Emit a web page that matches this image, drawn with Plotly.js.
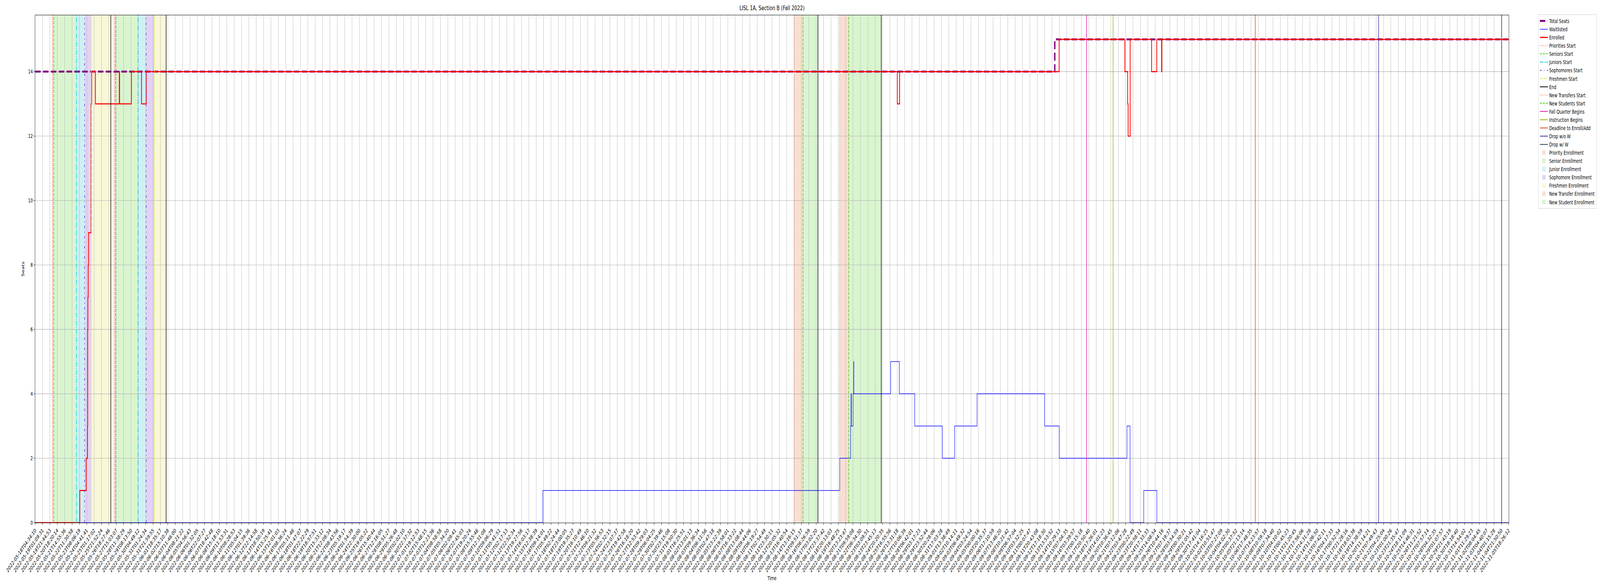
<!DOCTYPE html>
<html>
<head>
<meta charset="utf-8">
<script src="https://cdn.plot.ly/plotly-3.0.1.min.js"></script>
<style>
html,body{margin:0;padding:0;background:#fff;overflow:hidden}
#chart{width:6000px;height:1500px;transform-origin:0 0}
</style>
</head>
<body>
<div id="chart"></div>
<script>
var tStart = '2022-05-18 04:34:10';
var tEnd = '2022-11-05 18:26:12';

// total seats (step)
var seatTimes = [tStart, '2022-09-13 21:42:00', tEnd];
var seatValues = [14, 15, 15];

// waitlisted (step)
var waitTimes = [tStart, '2022-07-16 07:12:00', '2022-08-19 20:49:00', '2022-08-21 03:09:00',
  '2022-08-21 04:25:00', '2022-08-21 05:18:00', '2022-08-21 09:59:00', '2022-08-21 11:42:00',
  '2022-08-21 12:10:00', '2022-08-25 18:58:00', '2022-08-26 19:16:00', '2022-08-28 14:22:00',
  '2022-08-31 19:38:00', '2022-09-02 05:44:00', '2022-09-04 20:29:00', '2022-09-12 17:27:00',
  '2022-09-14 10:07:00', '2022-09-22 07:28:00', '2022-09-22 16:05:00', '2022-09-24 06:17:00',
  '2022-09-25 18:57:00', tEnd];
var waitValues = [0, 1, 2, 3, 4, 3, 4, 5, 4, 5, 4, 3, 2, 3, 4, 3, 2, 3, 0, 1, 0, 0];

// enrolled (step)
var enrolledTimes = [tStart, '2022-05-23 09:09:00', '2022-05-24 03:00:00', '2022-05-24 06:43:00',
  '2022-05-24 07:14:00', '2022-05-24 07:45:00', '2022-05-24 08:44:00', '2022-05-24 09:42:00',
  '2022-05-24 16:41:00', '2022-05-24 18:23:00', '2022-05-25 04:48:00', '2022-05-27 23:33:00',
  '2022-05-28 00:27:00', '2022-05-29 09:23:00', '2022-05-30 13:38:00', '2022-05-31 02:50:00',
  '2022-08-26 13:37:00', '2022-08-26 20:10:00', '2022-09-14 09:54:00', '2022-09-22 01:31:00',
  '2022-09-22 09:24:00', '2022-09-22 10:39:00', '2022-09-22 16:23:00', '2022-09-25 04:18:00',
  '2022-09-25 18:43:00', '2022-09-26 08:06:00', '2022-09-26 08:52:00', tEnd];
var enrolledValues = [0, 1, 2, 3, 6, 7, 8, 9, 13, 14, 13, 14, 13, 14, 13, 14, 13, 14, 15, 14, 13, 12, 15, 14, 15, 14, 15, 15];

// event markers
var lineNames = ['Priorities Start', 'Seniors Start', 'Juniors Start', 'Sophomores Start', 'Freshmen Start', 'End',
  'Priorities Start', 'Seniors Start', 'Juniors Start', 'Sophomores Start', 'Freshmen Start', 'End',
  'New Transfers Start', 'New Students Start', 'End',
  'New Transfers Start', 'New Students Start', 'End',
  'Fall Quarter Begins', 'Instruction Begins', 'Deadline to Enroll/Add', 'Drop w/o W', 'Drop w/ W'];
var lineTimes = ['2022-05-20 04:13:00', '2022-05-20 08:18:00', '2022-05-23 00:01:00', '2022-05-23 22:32:00', '2022-05-24 17:12:00', '2022-05-26 23:55:00',
  '2022-05-27 08:50:00', '2022-05-27 12:55:00', '2022-05-30 03:44:00', '2022-05-31 02:47:00', '2022-06-01 01:05:00', '2022-06-02 10:32:00',
  '2022-08-14 13:06:00', '2022-08-15 14:09:00', '2022-08-17 07:56:00',
  '2022-08-19 20:18:00', '2022-08-20 21:52:00', '2022-08-24 16:56:00',
  '2022-09-17 14:32:00', '2022-09-20 16:40:00', '2022-10-07 05:54:00', '2022-10-21 14:43:00', '2022-11-04 22:37:00'];

// enrollment windows
var spanNames = ['Priority Enrollment', 'Senior Enrollment', 'Junior Enrollment', 'Sophomore Enrollment', 'Freshmen Enrollment',
  'Priority Enrollment', 'Senior Enrollment', 'Junior Enrollment', 'Sophomore Enrollment', 'Freshmen Enrollment',
  'New Transfer Enrollment', 'New Student Enrollment', 'New Transfer Enrollment', 'New Student Enrollment'];
var spanStarts = ['2022-05-20 04:13:00', '2022-05-20 08:18:00', '2022-05-23 00:01:00', '2022-05-23 22:32:00', '2022-05-24 17:12:00',
  '2022-05-27 08:50:00', '2022-05-27 12:55:00', '2022-05-30 03:44:00', '2022-05-31 02:47:00', '2022-06-01 01:05:00',
  '2022-08-14 13:06:00', '2022-08-15 14:09:00', '2022-08-19 20:18:00', '2022-08-20 21:52:00'];
var spanEnds = ['2022-05-20 08:18:00', '2022-05-23 00:01:00', '2022-05-23 22:32:00', '2022-05-24 17:12:00', '2022-05-26 23:55:00',
  '2022-05-27 12:55:00', '2022-05-30 03:44:00', '2022-05-31 02:47:00', '2022-06-01 01:05:00', '2022-06-02 10:32:00',
  '2022-08-15 14:09:00', '2022-08-17 07:56:00', '2022-08-20 21:52:00', '2022-08-24 16:56:00'];

var lineStyles = {
  'Priorities Start': {color: '#f26b3a', dash: '2px,3.5px'},
  'Seniors Start': {color: '#3fcc10', dash: '7.7px,3.3px'},
  'Juniors Start': {color: '#00c8d8', dash: '13px,3px,2px,3px'},
  'Sophomores Start': {color: '#6a22d6', dash: '6px,9px,2px,9px'},
  'Freshmen Start': {color: '#e2e22a', dash: '6px,2px,2px,2px,2px,2px'},
  'End': {color: '#000000', dash: 'solid'},
  'New Transfers Start': {color: '#f26b3a', dash: '2px,3.5px'},
  'New Students Start': {color: '#3fcc10', dash: '7.7px,3.3px'},
  'Fall Quarter Begins': {color: '#e0179e', dash: 'solid'},
  'Instruction Begins': {color: '#8db414', dash: 'solid'},
  'Deadline to Enroll/Add': {color: '#d9461c', dash: 'solid'},
  'Drop w/o W': {color: '#3a2e99', dash: 'solid'},
  'Drop w/ W': {color: '#2f3f60', dash: 'solid'}
};
var spanColors = {
  'Priority Enrollment': '#f7dfd3',
  'Senior Enrollment': '#d9f5d0',
  'Junior Enrollment': '#cdf1f3',
  'Sophomore Enrollment': '#e1d3f5',
  'Freshmen Enrollment': '#f8f8d7',
  'New Transfer Enrollment': '#f7dfd3',
  'New Student Enrollment': '#d9f5d0'
};

var data = [
  {x: seatTimes, y: seatValues, name: 'Total Seats', type: 'scatter', mode: 'lines',
   line: {shape: 'hv', color: '#800080', width: 5, dash: '20.5px,8.9px'}, legendrank: 1},
  {x: waitTimes, y: waitValues, name: 'Waitlisted', type: 'scatter', mode: 'lines',
   line: {shape: 'hv', color: '#0000ff', width: 1.5}, legendrank: 2},
  {x: enrolledTimes, y: enrolledValues, name: 'Enrolled', type: 'scatter', mode: 'lines',
   line: {shape: 'hv', color: '#ff0000', width: 2.8}, legendrank: 3}
];

var shapes = [];
var seen = {};
var lineOrder = Object.keys(lineStyles);
lineNames.forEach(function (n, i) {
  var st = lineStyles[n];
  shapes.push({
    type: 'line', xref: 'x', yref: 'paper', x0: lineTimes[i], x1: lineTimes[i], y0: 0, y1: 1,
    layer: 'above', line: {color: st.color, width: 2, dash: st.dash},
    name: n, showlegend: !seen[n], legendrank: 10 + lineOrder.indexOf(n)
  });
  seen[n] = true;
});
var spanOrder = Object.keys(spanColors);
spanNames.forEach(function (n, i) {
  shapes.push({
    type: 'rect', xref: 'x', yref: 'paper', x0: spanStarts[i], x1: spanEnds[i], y0: 0, y1: 1,
    layer: 'below', fillcolor: spanColors[n], line: {width: 0},
    name: n, showlegend: !seen[n], legendrank: 40 + spanOrder.indexOf(n)
  });
  seen[n] = true;
});

var axisFont = {family: 'DejaVu Sans', size: 13.9, color: '#000'};
var layout = {
  width: 6000, height: 1500,
  margin: {l: 132, r: 329, t: 39, b: 162},
  paper_bgcolor: '#fff', plot_bgcolor: '#fff',
  font: axisFont,
  title: {text: 'LISL 1A, Section B (Fall 2022)', font: {family: 'DejaVu Sans', size: 16.7, color: '#000'},
          x: 0.5, xref: 'paper', xanchor: 'center', y: 0.9867, yref: 'container', yanchor: 'middle'},
  xaxis: {
    type: 'date', range: [tStart, tEnd],
    tick0: tStart, dtick: 74121610, tickformat: '%Y-%m-%dT%H:%M:%S',
    tickangle: -45, tickfont: axisFont,
    ticks: 'outside', ticklen: 5, tickwidth: 1.1, tickcolor: '#000',
    showgrid: true, gridcolor: '#b0b0b0', gridwidth: 1.1,
    showline: true, linecolor: '#000', linewidth: 1.1, mirror: true,
    title: {text: 'Time', font: axisFont, standoff: 8}
  },
  yaxis: {
    range: [0, 15.75], tickvals: [0, 2, 4, 6, 8, 10, 12, 14], tickfont: axisFont,
    ticks: 'outside', ticklen: 5, tickwidth: 1.1, tickcolor: '#000',
    showgrid: true, gridcolor: '#b0b0b0', gridwidth: 1.1, zeroline: false,
    showline: true, linecolor: '#000', linewidth: 1.1, mirror: true,
    title: {text: 'Seats', font: axisFont, standoff: 10}
  },
  shapes: shapes,
  showlegend: true,
  legend: {
    x: 1.02, y: 1.0015, xanchor: 'left', yanchor: 'top',
    bgcolor: 'rgba(255,255,255,0.8)', bordercolor: '#cccccc', borderwidth: 1,
    font: {family: 'DejaVu Sans', size: 13.9, color: '#000'},
    itemwidth: 30, tracegroupgap: 0, traceorder: 'normal'
  }
};

// the window may be narrower than the 6000x1500 design: scale the drawing to fit it
var chartDiv = document.getElementById('chart');
var sx = window.innerWidth / 6000, sy = window.innerHeight / 1500;
chartDiv.style.transform = 'scale(' + sx + ',' + sy + ')';

Plotly.newPlot('chart', data, layout, {displayModeBar: false, staticPlot: true});
</script>
</body>
</html>
